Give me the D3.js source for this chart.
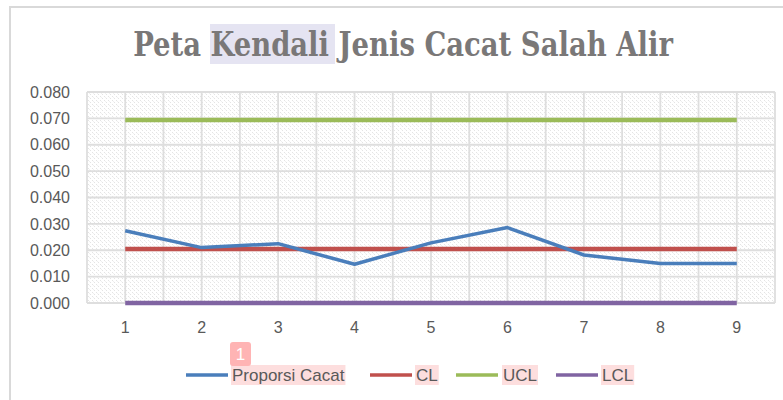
<!DOCTYPE html>
<html><head><meta charset="utf-8">
<script src="https://cdn.jsdelivr.net/npm/d3@7"></script>
<style>body{margin:0;background:#fff}svg{display:block}</style>
</head><body>
<svg id="c" width="783" height="400"></svg>
<script>
const categories = ["1","2","3","4","5","6","7","8","9"];
const proporsi = [0.0274, 0.0210, 0.0225, 0.0147, 0.0228, 0.0286, 0.0182, 0.0150, 0.0150];
const CL = [0.0205,0.0205,0.0205,0.0205,0.0205,0.0205,0.0205,0.0205,0.0205];
const UCL = [0.0694,0.0694,0.0694,0.0694,0.0694,0.0694,0.0694,0.0694,0.0694];
const LCL = [0,0,0,0,0,0,0,0,0];
const yTicks = [0,0.01,0.02,0.03,0.04,0.05,0.06,0.07,0.08];
const seriesNames = ["Proporsi Cacat","CL","UCL","LCL"];
const seriesColors = ["#4a7ebb","#c0504d","#9bbb59","#8064a2"];
const titleText = "Peta Kendali Jenis Cacat Salah Alir";

const svg = d3.select("#c");
const font = "'Liberation Sans Narrow', 'Liberation Sans', Arial, sans-serif";
const L = 87, R = 775, T = 92, B = 303;

// frame
svg.append("line").attr("x1",9).attr("x2",783).attr("y1",7).attr("y2",7).attr("stroke","#d9d9d9").attr("stroke-width",2);
svg.append("line").attr("x1",10).attr("x2",10).attr("y1",7).attr("y2",400).attr("stroke","#d9d9d9").attr("stroke-width",2);

// pattern
const defs = svg.append("defs");
const pat = defs.append("pattern").attr("id","dots").attr("patternUnits","userSpaceOnUse").attr("width",4).attr("height",4);
pat.append("rect").attr("width",4).attr("height",4).attr("fill","#fff");
pat.append("rect").attr("x",0).attr("y",0).attr("width",1).attr("height",1).attr("fill","#e4e4e4");
pat.append("rect").attr("x",2).attr("y",2).attr("width",1).attr("height",1).attr("fill","#e4e4e4");
pat.append("rect").attr("x",1).attr("y",1).attr("width",1).attr("height",1).attr("fill","#f0f0f0");

const x = d3.scaleBand().domain(categories).range([L, R]);
const y = d3.scaleLinear().domain([0, 0.08]).range([B, T]);
const cx = d => x(d) + x.bandwidth()/2;

svg.append("rect").attr("x",L).attr("y",T).attr("width",R-L).attr("height",B-T).attr("fill","url(#dots)");

// gridlines
const g = svg.append("g").attr("stroke","#dedede").attr("stroke-width",1.8);
yTicks.forEach(t => g.append("line").attr("x1",L).attr("x2",R).attr("y1",y(t)).attr("y2",y(t)));
const vx = [];
categories.forEach(c => { vx.push(x(c)); vx.push(cx(c)); });
vx.push(R);
vx.forEach(v => g.append("line").attr("x1",v).attr("x2",v).attr("y1",T).attr("y2",B));

// y axis labels
const yAxis = d3.axisLeft(y).tickValues(yTicks).tickFormat(d3.format(".3f")).tickSize(0).tickPadding(17);
const ya = svg.append("g").attr("transform",`translate(${L},0)`).call(yAxis);
ya.select(".domain").remove();
ya.selectAll("text").attr("font-family",font).attr("font-size",16).attr("fill","#595959");

const xAxis = d3.axisBottom(x).tickSize(0).tickPadding(19);
const xa = svg.append("g").attr("transform",`translate(0,${B})`).call(xAxis);
xa.select(".domain").remove();
xa.selectAll("text").attr("font-family",font).attr("font-size",16).attr("fill","#595959");

// series
const data = [proporsi, CL, UCL, LCL];
const line = d3.line().x((d,i)=>cx(categories[i])).y(d=>y(d));
[LCL, UCL, CL].forEach((s) => {
  const i = data.indexOf(s);
  svg.append("path").attr("d", line(s)).attr("fill","none").attr("stroke",seriesColors[i]).attr("stroke-width",4.5);
});
svg.append("path").attr("d", line(proporsi)).attr("fill","none").attr("stroke",seriesColors[0]).attr("stroke-width",3.5).attr("stroke-linejoin","round");

// title
svg.append("rect").attr("x",210).attr("y",24).attr("width",125).attr("height",40).attr("fill","#e5e4f2");
const title = svg.append("text").attr("x",0).attr("y",0).attr("text-anchor","middle")
  .attr("font-family","'DejaVu Serif Condensed','Liberation Serif',serif").attr("font-weight","bold")
  .attr("font-size",30).attr("fill","#7a7878").text(titleText);
const tw = title.node().getComputedTextLength();
title.attr("font-size", 30*540/tw).attr("transform","translate(403,56) scale(1,1.12)");

// legend
const leg = svg.append("g");
const items = [
  {lx:186, tx:232},
  {lx:370, tx:416},
  {lx:456, tx:503},
  {lx:556, tx:602}
];
items.forEach((it, i) => {
  const r = leg.append("rect").attr("x",it.tx-1).attr("y",365).attr("width",10).attr("height",20).attr("fill","#fddede");
  leg.append("line").attr("x1",it.lx).attr("x2",it.lx+42).attr("y1",375).attr("y2",375).attr("stroke",seriesColors[i]).attr("stroke-width",3.5);
  const t = leg.append("text").attr("x",it.tx).attr("y",381).attr("font-family",font).attr("font-size",17).attr("fill","#595959").text(seriesNames[i]);
  r.attr("width", t.node().getComputedTextLength()+2);
});
leg.append("rect").attr("x",230).attr("y",342).attr("width",21).attr("height",24).attr("rx",3).attr("fill","#ffb4b4");
leg.append("text").attr("x",240.5).attr("y",360).attr("text-anchor","middle").attr("font-family",font).attr("font-size",17).attr("fill","#fff").text("1");
</script>
</body></html>
